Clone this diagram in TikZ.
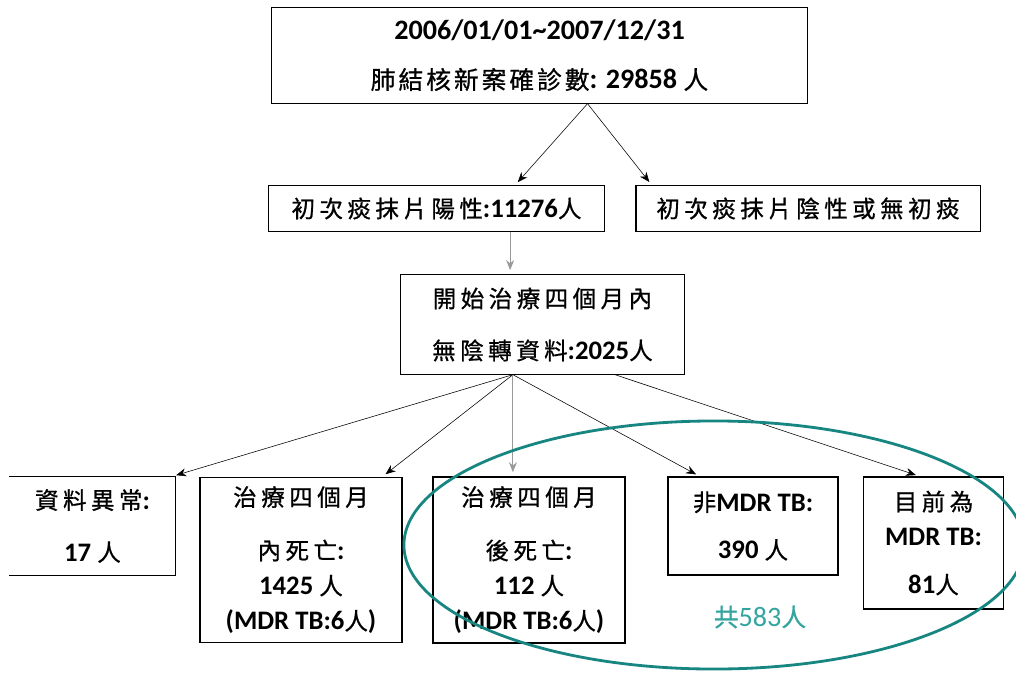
\documentclass[tikz,border=0pt]{standalone}
\usepackage{fontspec}
\setmainfont{Carlito}
\newfontfamily\cjk[Scale=0.88, LetterSpace=19, FakeBold=0.8]{Noto Sans CJK TC}
\usetikzlibrary{arrows.meta}
\newcommand{\zh}[1]{{\cjk\mdseries #1}}
\definecolor{ringteal}{RGB}{24,134,128}
\definecolor{labelteal}{RGB}{52,164,158}

\begin{document}
\begin{tikzpicture}[
  x=0.025cm, y=-0.025cm,
  font=\fontsize{19}{25}\selectfont\bfseries,
  box/.style={draw, thick, fill=white, align=center, inner sep=2pt},
  arrow/.style={-{Stealth[length=2.5mm,width=2mm]}, shorten >=3pt},
  grayarrow/.style={arrow, draw=black!40, thick}
]
\useasboundingbox (0,0) rectangle (1016,675);

% top of the tree
\node[box, minimum width=13.38cm, minimum height=2.38cm, font=\fontsize{20}{25}\selectfont\bfseries] (total) at (539.5,55.5)
  {2006/01/01\textasciitilde2007/12/31\\[10pt]{\cjk\mdseries\addfontfeature{LetterSpace=12}肺結核新案確診數}: 29858 \zh{人}};

% smear result
\node[box, minimum width=8.38cm, minimum height=1.13cm] (smearpos) at (436.5,208.5)
  {\zh{初次痰抹片陽性}:11276\zh{人}};
\node[box, minimum width=8.6cm, minimum height=1.13cm] (smearneg) at (808,208.5)
  {\zh{初次痰抹片陰性或無初痰}};

% no conversion
\node[box, minimum width=7.08cm, minimum height=2.48cm] (noconv) at (542.5,324.5)
  {\zh{開始治療四個月內}\\[12pt]\zh{無陰轉資料}:2025\zh{人}};

% outcomes
\node[box, draw=none, minimum width=4.13cm, minimum height=2.45cm] (abnormal) at (92.5,526)
  {\zh{資料異常}:\\[12pt]17 \zh{人}};
\draw[thick] (abnormal.north west) -- (abnormal.north east) -- (abnormal.south east) -- (abnormal.south west);
\node[box, minimum width=5.05cm, minimum height=4.13cm] (deadin) at (301,560)
  {\zh{治療四個月}\\[13pt]\zh{內死亡}:\\1425 \zh{人}\\(MDR TB:6\zh{人})};
\node[box, minimum width=4.8cm, minimum height=4.15cm] (deadafter) at (529,560)
  {\zh{治療四個月}\\[13pt]\zh{後死亡}:\\112 \zh{人}\\(MDR TB:6\zh{人})};
\node[box, minimum width=4.25cm, minimum height=2.45cm] (nonmdr) at (753,526)
  {\zh{非}MDR TB:\\[9pt]390 \zh{人}};
\node[box, minimum width=3.48cm, minimum height=3.3cm] (mdr) at (933.5,543)
  {\zh{目前為}\\MDR TB:\\[9pt]81\zh{人}};

\coordinate (split) at ([xshift=1.2cm]total.south);
\coordinate (fanA) at ([xshift=-0.74cm]noconv.south);
\coordinate (fanB) at ([xshift=1.81cm]noconv.south);

\draw[arrow] (split) -- ([xshift=1.96cm]smearpos.north);
\draw[arrow] (split) -- ([xshift=-3.9cm]smearneg.north);
\draw[grayarrow] ([xshift=1.84cm]smearpos.south) -- ([xshift=1.84cm]smearpos.south |- noconv.north);

\draw[arrow] (fanA) -- ([xshift=1.99cm]abnormal.north);
\draw[arrow] (fanA) -- ([xshift=2.03cm]deadin.north);
\draw[grayarrow] (fanA) -- (fanA |- deadafter.north);
\draw[arrow] (fanA) -- ([xshift=-1.33cm]nonmdr.north);
\draw[arrow] (fanB) -- ([xshift=-0.34cm]mdr.north);

% group of 583
\draw[ringteal, line width=2pt] (714,545) ellipse [x radius=7.75cm, y radius=3.1cm];
\node[text=labelteal, font=\fontsize{20}{22}\selectfont] (sum) at (760,617) {\zh{共}583\zh{人}};
\end{tikzpicture}
\end{document}
